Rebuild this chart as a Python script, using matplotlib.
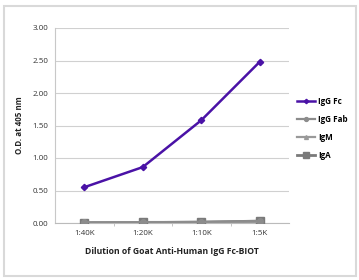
import matplotlib
matplotlib.use("Agg")
import matplotlib.pyplot as plt
from matplotlib.patches import Rectangle

categories = ["1:40K", "1:20K", "1:10K", "1:5K"]
igg_fc = [0.55, 0.86, 1.58, 2.48]
igg_fab = [0.01, 0.01, 0.02, 0.03]
igm = [0.01, 0.01, 0.01, 0.02]
iga = [0.00, 0.01, 0.01, 0.03]
yticks = [0.0, 0.5, 1.0, 1.5, 2.0, 2.5, 3.0]

plt.rcParams['font.family'] = ['Open Sans', 'DejaVu Sans']

fig = plt.figure(figsize=(3.59, 2.80), dpi=100)
fig.patches.append(Rectangle((0.011, 0.015), 0.98, 0.965, transform=fig.transFigure,
                             fill=False, edgecolor='#d9d9d9', linewidth=1.5))
ax = fig.add_axes([55/359, 1-223/280, (289-55)/359, (223-28)/280])

x = list(range(len(categories)))
ax.plot(x, iga, color='#7a7a7a', marker='s', markersize=5.5, linewidth=2.0, label='IgA', zorder=3)
ax.plot(x, igm, color='#999999', marker='^', markersize=4, linewidth=1.6, label='IgM', zorder=3)
ax.plot(x, igg_fab, color='#8c8c8c', marker='o', markersize=4, linewidth=1.6, label='IgG Fab', zorder=3)
ax.plot(x, igg_fc, color='#4a12a6', marker='D', markersize=3.2, linewidth=1.8, label='IgG Fc', zorder=4)

ax.set_xlim(-0.5, len(categories) - 0.5)
ax.set_ylim(0, 3.0)
ax.set_yticks(yticks)
ax.set_yticklabels([f"{v:.2f}" for v in yticks], fontsize=5.8, color='#333333')
ax.set_xticks(x)
ax.set_xticklabels(categories, fontsize=5.8, color='#333333')
ax.tick_params(axis='x', length=0, pad=5)
ax.tick_params(axis='y', length=0, pad=5)
ax.set_xticks([i + 0.5 for i in range(len(categories) - 1)], minor=True)
ax.tick_params(axis='x', which='minor', length=2.5, color='#bbbbbb', direction='out')
ax.grid(axis='y', color='#d0d0d0', linewidth=0.8)
ax.set_axisbelow(True)
for s in ['top', 'right']:
    ax.spines[s].set_visible(False)
ax.spines['left'].set_color('#c8c8c8')
ax.spines['bottom'].set_color('#bbbbbb')
ax.spines['left'].set_linewidth(0.8)
ax.spines['bottom'].set_linewidth(0.8)

ax.set_ylabel("O.D. at 405 nm", fontsize=5.8, fontweight='bold', color='#222222', labelpad=6)
ax.set_xlabel("Dilution of Goat Anti-Human IgG Fc-BIOT", fontsize=6.2, fontweight='bold',
              color='#222222', labelpad=7)

handles, labels = ax.get_legend_handles_labels()
order = [3, 2, 1, 0]
leg = fig.legend([handles[i] for i in order], [labels[i] for i in order],
                 loc='center left', bbox_to_anchor=(297/359, 1-128.5/280), frameon=False,
                 prop={'size': 5.8, 'weight': 'bold'}, handlelength=2.2, markerscale=0.7,
                 numpoints=1, handletextpad=0.4, labelspacing=1.1, borderaxespad=0,
                 borderpad=0)

fig.savefig("out.png", dpi=100)
